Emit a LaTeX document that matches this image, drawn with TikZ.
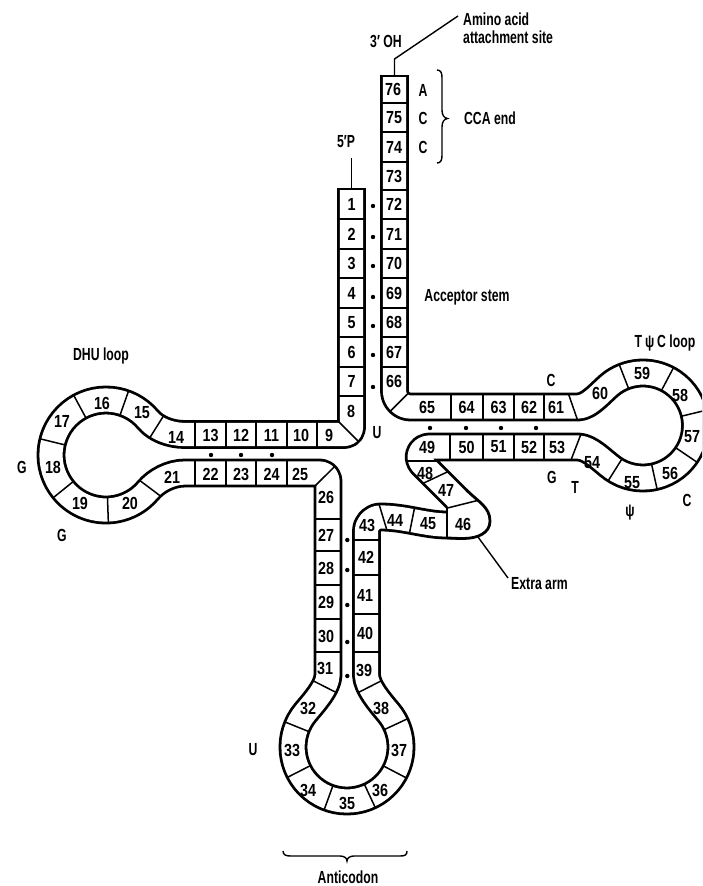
\documentclass[tikz,border=0pt]{standalone}
\usepackage{fontspec}
\setmainfont{Liberation Sans}
\newfontfamily\numfont{Liberation Sans}[FakeStretch=0.82]
\newfontfamily\wordfont{Liberation Sans}[FakeStretch=0.7]
\usetikzlibrary{calc}
\begin{document}
\begin{tikzpicture}[x=1pt,y=-1pt,
  rib/.style={line width=2.8pt, double=white, double distance=23.2pt, line join=round},
  edgeline/.style={line width=2.8pt, line cap=rect},
  dv/.style={line width=1.5pt},
  ln/.style={line width=1.4pt},
  lab/.style={font=\numfont\bfseries\fontsize{17.5}{18}\selectfont, inner sep=0pt},
  wrd/.style={font=\wordfont\bfseries\fontsize{17.5}{18}\selectfont, inner sep=0pt},
]
\useasboundingbox (0,0) rectangle (702,886);
\clip (0,0) rectangle (702,886);
\fill[white] (0,0) rectangle (702,886);

% ---------- the ribbon (centre line of the strand, 5' -> 3') ----------
\draw[rib] (351.5,189) -- (351.5,427.5)
 .. controls (351.5,431.4) and (348.4,434.5) .. (344.5,434.5)
 -- (185,434.5)
 .. controls (170,434.5) and (155.8,428.8) .. (148.13,419.65)
 arc[start angle=-40, end angle=-320, radius=55]
 .. controls (155.8,481.2) and (170,473) .. (185,473)
 -- (320,473)
 .. controls (324.4,473) and (328,476.6) .. (328,481)
 -- (328,675)
 .. controls (328,687) and (313.3,703.1) .. (305.63,712.29)
 arc[start angle=220, end angle=-40, radius=54]
 .. controls (380.7,703.1) and (366.5,687) .. (366.5,675)
 -- (366.5,531)
 .. controls (366.5,523.3) and (372.8,517) .. (380.5,517)
 .. controls (405,517) and (425,525) .. (447,525)
 -- (458.9,525)
 arc[start angle=90, end angle=-45, radius=10]
 -- (422.03,464.07)
 arc[start angle=135, end angle=270, radius=10]
 -- (578,447)
 .. controls (590,447) and (603.1,461.6) .. (612.89,468.5)
 arc[start angle=125, end angle=-125, radius=52.5]
 .. controls (603.1,389.4) and (590,407) .. (578,407)
 -- (410.5,407)
 .. controls (401.7,407) and (394.5,399.8) .. (394.5,391)
 -- (394.5,76);
% closed ends
\draw[edgeline] (338.5,189) -- (364.5,189);
\draw[edgeline] (381.5,76) -- (407.5,76);

% lobe of box 46
\fill[white] (466,489.6) .. controls (478,501.6) and (490,507) .. (490,521)
  .. controls (490,533) and (478,538.5) .. (463,538.5)
  .. controls (455,538.5) and (451,538) .. (447,538) -- (447,507.4) -- cycle;
\draw[line width=2.8pt] (466,489.6) .. controls (478,501.6) and (490,507) .. (490,521)
  .. controls (490,533) and (478,538.5) .. (463,538.5)
  .. controls (455,538.5) and (451,538) .. (447,538);

% ---------- dividers ----------
\foreach \y in {219,249,278,308,337,367,396} \draw[dv] (338.5,\y) -- (364.5,\y);
\foreach \y in {103,132,162,190,219,249,278,308,337,367} \draw[dv] (381.5,\y) -- (407.5,\y);
\foreach \x in {195,226,256,287,317} \draw[dv] (\x,421.5) -- (\x,447.5);
\foreach \x in {195,226,256,287} \draw[dv] (\x,460) -- (\x,486);
\foreach \y in {519,551,585,619,652} \draw[dv] (315,\y) -- (341,\y);
\foreach \y in {540,575,614,652} \draw[dv] (353.5,\y) -- (379.5,\y);
\foreach \x in {451,483,514,544} \draw[dv] (\x,394) -- (\x,420);
\foreach \x in {450,483,514,544} \draw[dv] (\x,434) -- (\x,460);
% corners and flares
\draw[dv] (338.5,421.5) -- (358.6,441.6);
\draw[dv] (315,486) -- (334.9,466.2);
\draw[dv] (408.4,393.1) -- (390,411.5);
\draw[dv] (163.5,415.9) -- (149.7,437.9);
\draw[dv] (313,680.7) -- (336.2,692.5);
\draw[dv] (358.3,692.5) -- (381.5,680.7);
\draw[dv] (379,504) -- (387,530.5);
\draw[dv] (414.5,508) -- (409.5,533);
\draw[dv] (447,507.4) -- (447,538);
\draw[dv] (447.5,508) -- (477,500.6);
\draw[dv] (423,483.4) -- (448,471.6);
\draw[dv] (406.5,461) -- (437.4,461);
\draw[dv] (568.5,394) -- (577.5,420);
\draw[dv] (581,434) -- (571,460);
% loops
\foreach \a in {-70.6,-118.4,-166.2,141,88,37}
  \draw[dv] ($(106,455)+(\a:42)$) -- ($(106,455)+(\a:68)$);
\foreach \a in {-158,153,110,65,27.5,-25}
  \draw[dv] ($(347,747)+(\a:41)$) -- ($(347,747)+(\a:67)$);
\foreach \a in {-111.3,-62.2,-13.6,34.2,77.5,122.2}
  \draw[dv] ($(643,425.5)+(\a:39.5)$) -- ($(643,425.5)+(\a:65.5)$);

% ---------- base-pair dots ----------
\foreach \y in {206,237,266,297,326,355,387} \fill (373,\y) circle[radius=2.2];
\foreach \x in {211,241,272} \fill (\x,455) circle[radius=2.2];
\foreach \y in {540,570,605,642,676} \fill (347.3,\y) circle[radius=2.2];
\foreach \x in {430,466,501,536} \fill (\x,428) circle[radius=2.2];

% ---------- numbers ----------
\foreach \n/\x/\y in {
1/351.5/204, 2/351.5/234, 3/351.5/263.5, 4/351.5/293, 5/351.5/322.5, 6/351.5/352, 7/351.5/381.5, 8/351/411,
9/329/435.5, 10/301/435.5, 11/271.5/435.5, 12/241/435.5, 13/210.5/435.5, 14/176/437,
15/142/413, 16/102/403, 17/62/421, 18/53/467, 19/80/503, 20/130/503, 21/172/477,
22/210.5/474, 23/241/474, 24/271.5/474, 25/300/474,
26/326/497, 27/326/535, 28/326/568, 29/326/602, 30/326/636, 31/325/668,
32/308/708, 33/292/750, 34/308/790, 35/347/803, 36/380/790, 37/399/750, 38/381/708,
39/364/670, 40/365/633, 41/365/595, 42/366/557.5, 43/367/525, 44/395/520, 45/428/524, 46/463/524,
47/446/490, 48/425/473, 49/427/447, 50/466.5/447, 51/498.5/447, 52/529/447, 53/557/447,
54/592/463, 55/632/483, 56/670/473, 57/692/437, 58/680/395, 59/642/373, 60/600/393,
61/556/407, 62/529/407, 63/498.5/407, 64/466.5/407, 65/427/407,
66/394/381.5, 67/394/352, 68/394/322.5, 69/394/293, 70/394/263.5, 71/394/234,
72/394/204.5, 73/394/176, 74/394/147, 75/394/117.5, 76/393/89.5}
  \node[lab] (b\n) at (\x,\y) {\n};

% ---------- text ----------
\node[wrd] (fivep) at (346,142) {5′P};
\node[wrd] (threeoh) at (386,41) {3′ OH};
\node[wrd, align=left, anchor=west] (amino) at (463,28) {Amino acid\\attachment site};
\node[wrd] (nA) at (423,90) {A};
\node[wrd] (nC1) at (423,118) {C};
\node[wrd] (nC2) at (423,147) {C};
\node[wrd] (cca) at (490,118) {CCA end};
\node[wrd] (acc) at (467,297) {Acceptor stem};
\node[wrd] (uacc) at (377,433) {U};
\node[wrd] (dhu) at (101,356) {DHU loop};
\node[wrd] (gl) at (22,467) {G};
\node[wrd] (gb) at (62,535) {G};
\node[wrd] (tpsic) at (665,343) {T\,ψ\,C loop};
\node[wrd] (tc) at (551,380) {C};
\node[wrd] (tg) at (552,477) {G};
\node[wrd] (tt) at (575,487) {T};
\node[wrd] (tpsi) at (630,513) {ψ};
\node[wrd] (tc2) at (687,500) {C};
\node[wrd, anchor=west] (extra) at (511,584) {Extra arm};
\node[wrd] (uanti) at (253,750) {U};
\node[wrd] (anti) at (348,877) {Anticodon};

% ---------- leader lines ----------
\coordinate (top3) at (394.5,76);
\coordinate (kink) at (394.5,59);
\coordinate (aminoend) at (458,16);
\draw[ln] (top3) -- (kink) -- (aminoend);
\coordinate (top5) at (351.5,189);
\draw[ln] (top5) -- (351.5,158);
\coordinate (lobept) at (478,537);
\coordinate (extraend) at (508,578);
\draw[ln] (lobept) -- (extraend);

% braces
\draw[ln] (437,70) .. controls (441,70) and (442,73) .. (442,78) -- (442,110)
  .. controls (442,115) and (444,118) .. (447.5,118.5)
  .. controls (444,119) and (442,122) .. (442,127) -- (442,155)
  .. controls (442,160) and (441,163) .. (437,163);
\draw[ln] (283,851) .. controls (283,855) and (286,856) .. (291,856) -- (340,856)
  .. controls (344,856) and (347,858) .. (347,861)
  .. controls (347,858) and (350,856) .. (354,856) -- (400,856)
  .. controls (405,856) and (407,855) .. (407,851);
\end{tikzpicture}
\end{document}
